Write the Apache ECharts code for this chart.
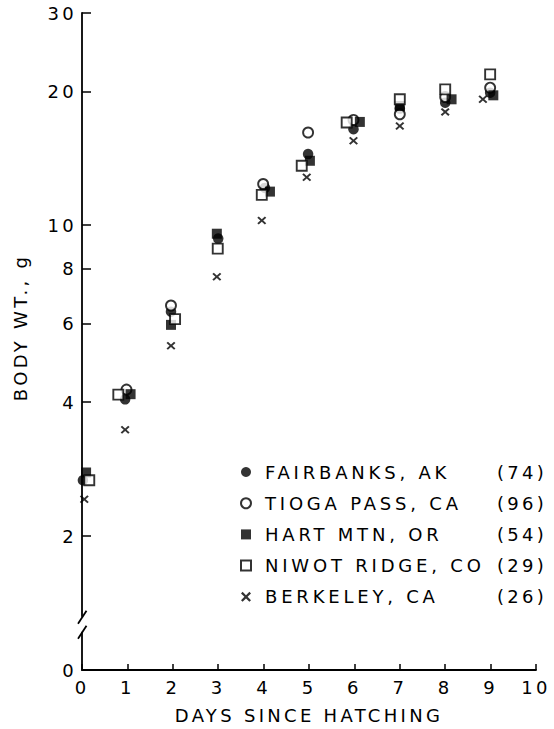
<!DOCTYPE html>
<html><head><meta charset="utf-8">
<script src="https://cdn.jsdelivr.net/npm/echarts@6/dist/echarts.min.js"></script>
<style>
html,body{margin:0;padding:0;background:#fff;}
#c{width:554px;height:729px;}
#c text{letter-spacing:3.3px;}
#c text.wide{letter-spacing:3.8px;}
</style></head><body><div id="c"></div>
<script>
// [day, body weight g]
const fairbanks = [[0.02,2.67],[0.95,4.06],[1.96,6.39],[3.0,9.33],[4.03,12.13],[4.98,14.45],[5.98,16.44],[7.0,18.29],[8.0,18.86],[8.99,19.86]];
const tioga     = [[0.98,4.27],[1.96,6.60],[3.99,12.38],[4.98,16.16],[5.98,17.25],[7.0,17.76],[8.0,19.42],[8.99,20.38],[10.02,20.92]];
const hart      = [[0.09,2.78],[1.07,4.17],[1.96,5.97],[2.97,9.57],[4.14,11.90],[5.02,13.96],[6.12,17.07],[7.0,18.54],[8.14,19.19],[9.06,19.59]];
const niwot     = [[0.16,2.67],[0.80,4.16],[2.05,6.15],[2.99,8.86],[3.96,11.70],[4.84,13.61],[5.83,17.02],[7.0,19.19],[8.0,20.20],[8.99,21.83],[10.02,23.25]];
const berkeley  = [[0.05,2.42],[0.95,3.47],[1.96,5.36],[2.97,7.66],[3.96,10.25],[4.95,12.82],[5.98,15.48],[7.0,16.72],[8.0,17.98],[8.83,19.19]];

const siteNames = ['FAIRBANKS, AK','TIOGA PASS, CA','HART MTN, OR','NIWOT RIDGE, CO','BERKELEY, CA'];
const sampleSizes = [74, 96, 54, 29, 26];
const yTickValues = [1, 2, 4, 6, 8, 10, 20, 30];
const xTickLabels = ['0','1','2','3','4','5','6','7','8','9','10'];

const FONT = 'DejaVu Sans';
const xPath = 'path://M0,1.6 L1.6,0 L5,3.4 L8.4,0 L10,1.6 L6.6,5 L10,8.4 L8.4,10 L5,6.6 L1.6,10 L0,8.4 L3.4,5 Z';

const chart = echarts.init(document.getElementById('c'), null, {renderer: 'svg'});
const filled = {color: '#000', borderColor: '#000', borderWidth: 0};
const open = {color: '#fff', borderColor: '#000', borderWidth: 1.9};

const seriesDefs = [
  {data: fairbanks, symbol: 'circle', size: 10.5, style: filled},
  {data: tioga, symbol: 'circle', size: 10, style: open},
  {data: hart, symbol: 'rect', size: 10, style: filled},
  {data: niwot, symbol: 'rect', size: 10, style: open},
  {data: berkeley, symbol: xPath, size: [9, 8], style: filled}
];

const option = {
  animation: false,
  backgroundColor: '#fff',
  grid: {left: 82, right: 18, top: 13, bottom: 56},
  xAxis: {
    type: 'value', min: 0, max: 10, interval: 1,
    name: 'DAYS SINCE HATCHING', nameLocation: 'middle', nameGap: 36,
    nameTextStyle: {fontFamily: FONT, fontSize: 18, color: '#000'},
    axisLine: {show: true, lineStyle: {color: '#000', width: 1.8}},
    axisTick: {show: true, inside: true, length: 6, lineStyle: {color: '#000', width: 1.5}},
    axisLabel: {fontFamily: FONT, fontSize: 18, color: '#000', margin: 8,
      formatter: v => xTickLabels[Math.round(v)]},
    splitLine: {show: false}
  },
  yAxis: {
    type: 'log', logBase: 10, min: 1, max: 30,
    name: 'BODY WT., g', nameLocation: 'middle', nameGap: 53, nameRotate: 90,
    nameTextStyle: {fontFamily: FONT, fontSize: 18, color: '#000', padding: [0, 0, 0, 28]},
    axisLine: {show: true, lineStyle: {color: '#000', width: 1.8}},
    axisTick: {show: true, inside: true, length: 9, lineStyle: {color: '#000', width: 1.5},
      customValues: yTickValues.slice(1)},
    axisLabel: {fontFamily: FONT, fontSize: 18, color: '#000', margin: 5,
      customValues: yTickValues,
      formatter: v => (Math.abs(v - 1) < 1e-9 ? '0' : String(Math.round(v)))},
    splitLine: {show: false}
  },
  legend: {
    orient: 'vertical', left: 240, top: 463, padding: 0,
    itemWidth: 10, itemHeight: 10, itemGap: 13.2,
    data: siteNames,
    textStyle: {fontFamily: FONT, fontSize: 18, color: '#000',
      rich: {
        s: {width: 9, fontSize: 18, fontFamily: FONT, lineHeight: 20},
        n: {width: 232, fontSize: 18, fontFamily: FONT, color: '#000', lineHeight: 20},
        c: {fontSize: 18, fontFamily: FONT, color: '#000', lineHeight: 20}
      }},
    formatter: name => '{s| }{n|' + name + '}{c|(' + sampleSizes[siteNames.indexOf(name)] + ')}'
  },
  series: seriesDefs.map((d, i) => ({
    name: siteNames[i], type: 'scatter', data: d.data,
    symbol: d.symbol, symbolSize: d.size, itemStyle: d.style,
    z: 2 + i
  }))
};
chart.setOption(option);

// axis break marks on the y axis
const breakValue = 1.27;
const yb = chart.convertToPixel({yAxisIndex: 0}, breakValue);
const xa = chart.convertToPixel({xAxisIndex: 0}, 0);
chart.setOption({
  graphic: [
    {type: 'rect', shape: {x: xa - 2.5, y: yb - 7, width: 5, height: 15}, style: {fill: '#fff'}, z: 50},
    {type: 'line', shape: {x1: xa - 4, y1: yb, x2: xa + 4.5, y2: yb - 13}, style: {stroke: '#000', lineWidth: 1.8}, z: 51},
    {type: 'line', shape: {x1: xa - 4, y1: yb + 15, x2: xa + 4.5, y2: yb + 2}, style: {stroke: '#000', lineWidth: 1.8}, z: 51}
  ]
});

// legend site names are lettered a little wider in the original
function widenLegend() {
  document.querySelectorAll('#c text').forEach(t => {
    if (siteNames.indexOf(t.textContent.trim()) >= 0) t.classList.add('wide');
  });
}
widenLegend();
chart.on('finished', widenLegend);
</script></body></html>
